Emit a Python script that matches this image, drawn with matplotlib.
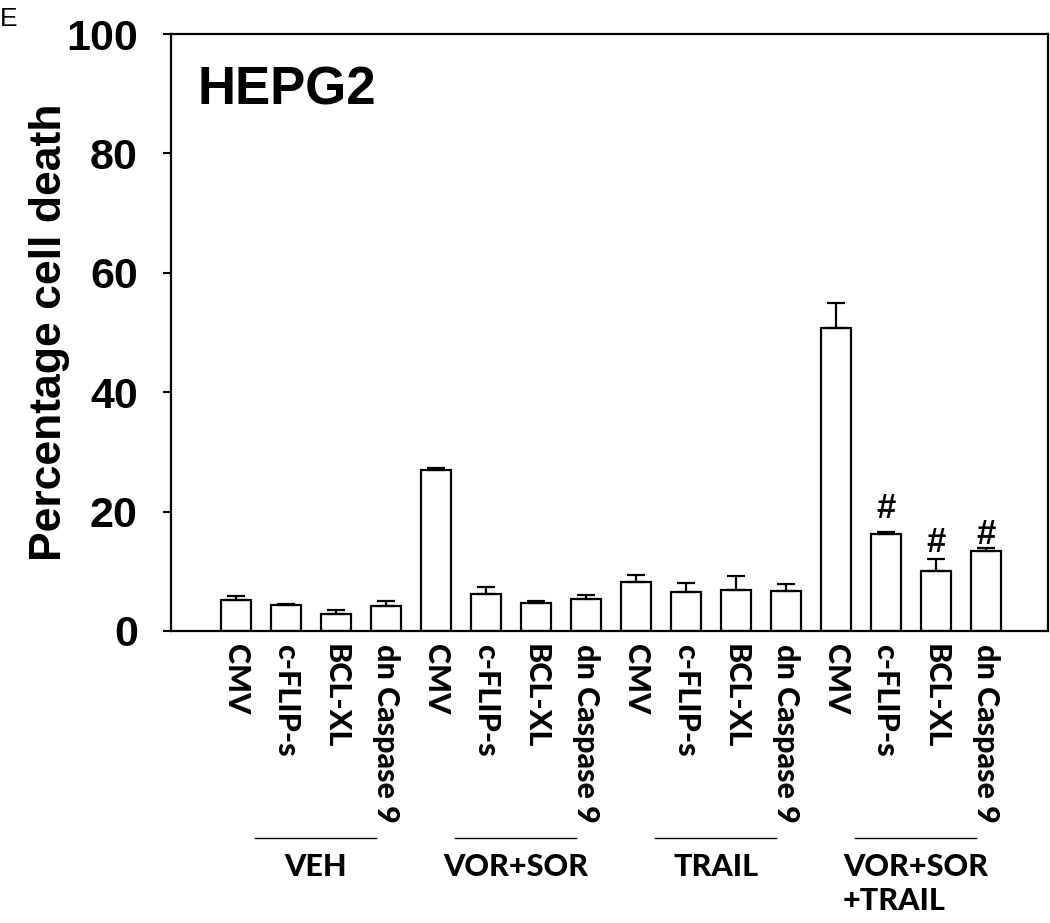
import matplotlib
matplotlib.use("Agg")
import matplotlib.pyplot as plt
import matplotlib.transforms as mtransforms
import numpy as np

# ---- data ----
groups = ["VEH", "VOR+SOR", "TRAIL", "VOR+SOR\n+TRAIL"]
constructs = ["CMV", "c-FLIP-s", "BCL-XL", "dn Caspase 9"]
veh_vals = [5.2, 4.3, 2.9, 4.2]
veh_err = [0.7, 0.2, 0.65, 0.8]
vorsor_vals = [27.0, 6.2, 4.75, 5.3]
vorsor_err = [0.3, 1.2, 0.3, 0.7]
trail_vals = [8.2, 6.5, 6.8, 6.65]
trail_err = [1.2, 1.6, 2.4, 1.3]
combo_vals = [50.7, 16.3, 10.05, 13.45]
combo_err = [4.3, 0.3, 1.95, 0.5]
hash_marks = ["", "#", "#", "#"]
hash_y = [None, 20.6, 14.9, 16.1]
yticks = [0, 20, 40, 60, 80, 100]

values = veh_vals + vorsor_vals + trail_vals + combo_vals
errors = veh_err + vorsor_err + trail_err + combo_err
labels = constructs * len(groups)
x = np.arange(len(values))

fig = plt.figure(figsize=(10.5, 9.23), dpi=100)
ax = fig.add_axes([171/1050, 1-631/923, (1048-171)/1050, (631-34)/923])

ax.bar(x, values, width=0.6, color="white", edgecolor="black", linewidth=1.6,
       yerr=[np.zeros(len(errors)), errors], capsize=6.5,
       error_kw=dict(elinewidth=1.6, capthick=1.6, ecolor="black"))

ax.set_xlim(-1.3, 16.25)
ax.set_ylim(0, 100)
ax.set_yticks(yticks)
ax.set_yticklabels([str(v) for v in yticks], fontfamily="Liberation Sans",
                   fontweight="bold", fontsize=31)
ax.tick_params(axis="y", direction="out", length=6, width=1.5, pad=18)
ax.set_xticks(x)
ax.set_xticklabels(labels, rotation=270, va="top", ha="center",
                   fontfamily="Lato", fontweight="black", fontsize=22)
ax.tick_params(axis="x", length=0, pad=9)
for sp in ax.spines.values():
    sp.set_linewidth(1.6)

ax.set_ylabel("Percentage cell death", fontfamily="Liberation Sans",
              fontweight="bold", fontsize=32)
ax.yaxis.set_label_coords(-0.138, 0.5)
ax.yaxis.label.set_va("center")

ax.text(0.030, 0.948, "HEPG2", transform=ax.transAxes, ha="left", va="top",
        fontfamily="Liberation Sans", fontweight="bold", fontsize=38)

# hash marks
for gi, (m, hy) in enumerate(zip(hash_marks, hash_y)):
    if m:
        ax.text(12 + gi, hy, m, ha="center", va="center",
                fontfamily="Liberation Sans", fontweight="bold", fontsize=25)

# group lines and labels
trans = mtransforms.blended_transform_factory(ax.transData, ax.transAxes)
n = len(constructs)
for gi, g in enumerate(groups):
    start = gi * n
    ax.plot([start + 0.38, start + 2.8], [-0.3467, -0.3467], transform=trans,
            color="black", linewidth=1.0, clip_on=False)
    ax.text(start + 1.6, -0.372, g, transform=trans, ha="center", va="top",
            multialignment="left", fontfamily="Lato", fontweight="black",
            fontsize=22, linespacing=1.25)

fig.text(0.0, 0.992, "E", ha="left", va="top", fontfamily="Liberation Sans",
         fontsize=19)

fig.savefig("out.png", dpi=100)
